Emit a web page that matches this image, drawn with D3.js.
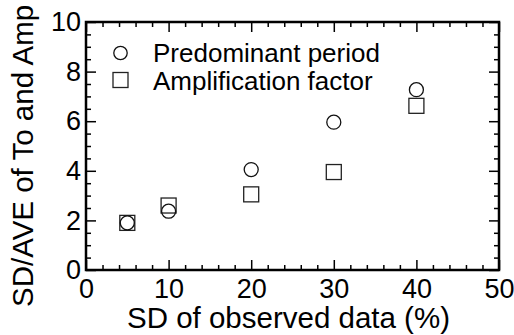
<!DOCTYPE html>
<html>
<head>
<meta charset="utf-8">
<script src="https://cdn.jsdelivr.net/npm/d3@7"></script>
<style>
  body { margin: 0; background: #fff; }
  svg { display: block; font-family: "Liberation Sans", Arial, sans-serif; }
</style>
</head>
<body>
<div id="chart"></div>
<script>
// data
let sdObserved = [5, 10, 20, 30, 40];
let periodVals = [1.9, 2.37, 4.05, 5.96, 7.27];
let ampVals = [1.9, 2.6, 3.05, 3.95, 6.62];
let xMajor = [0, 10, 20, 30, 40, 50];
let yMajor = [0, 2, 4, 6, 8, 10];
let legendNames = ["Predominant period", "Amplification factor"];

let W = 514, H = 335;
let margin = {top: 22, right: 15, bottom: 65, left: 86},
    width = W - margin.left - margin.right,
    height = H - margin.top - margin.bottom;

let svg = d3.select("#chart").append("svg")
    .attr("width", W)
    .attr("height", H);

let g = svg.append("g")
    .attr("transform", "translate(" + margin.left + "," + margin.top + ")");

let x = d3.scaleLinear().domain([0, 50]).range([0, width]);
let y = d3.scaleLinear().domain([0, 10]).range([height, 0]);

let xMinor = d3.range(0, 50.001, 2).filter(v => v % 10 != 0);
let yMinor = d3.range(0, 10.001, 0.5).filter(v => v % 2 != 0);

// ticks point inward on all four sides
function styleAxis(sel, labels) {
    sel.select(".domain").remove();
    sel.selectAll(".tick line").attr("stroke", "#000").attr("stroke-width", 1.5);
    if (!labels) sel.selectAll(".tick text").remove();
    else sel.selectAll(".tick text")
        .attr("fill", "#000")
        .style("font-size", "27px")
        .style("font-family", "Liberation Sans, Arial, sans-serif");
}

g.append("g").attr("transform", "translate(0," + height + ")")
    .call(d3.axisBottom(x).tickValues(xMajor).tickSize(-10).tickPadding(9).tickFormat(d3.format("d")))
    .call(s => styleAxis(s, true));
g.append("g").attr("transform", "translate(0," + height + ")")
    .call(d3.axisBottom(x).tickValues(xMinor).tickSize(-5))
    .call(s => styleAxis(s, false));
g.append("g")
    .call(d3.axisTop(x).tickValues(xMajor).tickSize(-10))
    .call(s => styleAxis(s, false));
g.append("g")
    .call(d3.axisTop(x).tickValues(xMinor).tickSize(-5))
    .call(s => styleAxis(s, false));

g.append("g")
    .call(d3.axisLeft(y).tickValues(yMajor).tickSize(-10).tickPadding(5).tickFormat(d3.format("d")))
    .call(s => styleAxis(s, true));
g.append("g")
    .call(d3.axisLeft(y).tickValues(yMinor).tickSize(-5))
    .call(s => styleAxis(s, false));
g.append("g").attr("transform", "translate(" + width + ",0)")
    .call(d3.axisRight(y).tickValues(yMajor).tickSize(-10))
    .call(s => styleAxis(s, false));
g.append("g").attr("transform", "translate(" + width + ",0)")
    .call(d3.axisRight(y).tickValues(yMinor).tickSize(-5))
    .call(s => styleAxis(s, false));

// frame
g.append("rect")
    .attr("width", width)
    .attr("height", height)
    .attr("fill", "none")
    .attr("stroke", "#000")
    .attr("stroke-width", 2.5);

// markers
let sq = 15, r = 7;
g.selectAll(".amp").data(sdObserved)
    .enter().append("rect")
    .attr("class", "amp")
    .attr("x", (d) => x(d) - sq / 2)
    .attr("y", (d, i) => y(ampVals[i]) - sq / 2)
    .attr("width", sq)
    .attr("height", sq)
    .attr("fill", "none")
    .attr("stroke", "#222")
    .attr("stroke-width", 1.3);

g.selectAll(".per").data(sdObserved)
    .enter().append("circle")
    .attr("class", "per")
    .attr("cx", (d) => x(d))
    .attr("cy", (d, i) => y(periodVals[i]))
    .attr("r", r)
    .attr("fill", "none")
    .attr("stroke", "#111")
    .attr("stroke-width", 1.3);

// legend
let lg = svg.append("g").attr("transform", "translate(120.5,53)");
lg.append("circle").attr("r", 6.7)
    .attr("fill", "none").attr("stroke", "#111").attr("stroke-width", 1.3);
lg.append("rect").attr("x", -7.5).attr("y", 27 - 7.5).attr("width", 15).attr("height", 15)
    .attr("fill", "none").attr("stroke", "#222").attr("stroke-width", 1.3);
lg.selectAll("text").data(legendNames)
    .enter().append("text")
    .attr("x", 32.5)
    .attr("y", (d, i) => 9 + i * 28)
    .style("font-size", "26px")
    .text(d => d);

// axis titles
svg.append("text")
    .attr("x", margin.left + width / 2 - 4)
    .attr("y", 328)
    .attr("text-anchor", "middle")
    .style("font-size", "29.5px")
    .text("SD of observed data (%)");

svg.append("text")
    .attr("transform", "translate(33,307) rotate(-90)")
    .attr("text-anchor", "start")
    .style("font-size", "29.5px")
    .text("SD/AVE of To and Amp");
</script>
</body>
</html>
